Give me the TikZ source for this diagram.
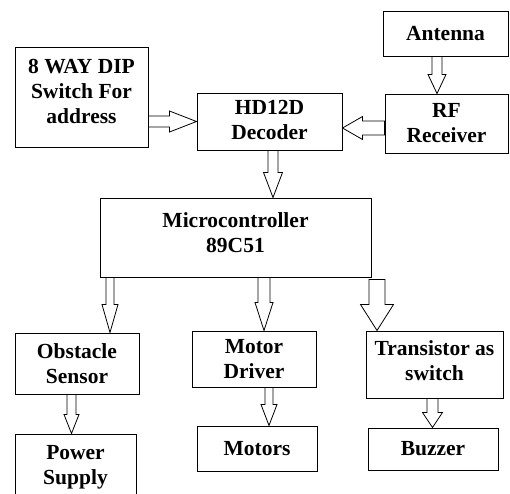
\documentclass[tikz,border=0pt]{standalone}
\usepackage{fontspec}
\setmainfont{Liberation Serif}
\usetikzlibrary{calc}

% hollow block arrow: start, end, shaft half width, head half width, head length
\newcommand{\hollowarrow}[5]{%
  \coordinate (ha) at (#1);
  \coordinate (hb) at (#2);
  \coordinate (hn) at ($(hb)!#5!(ha)$);
  \draw[arrline] ($(ha)!#3!90:(hb)$) -- ($(hn)!#3!90:(hb)$) -- ($(hn)!#4!90:(hb)$)
    -- (hb) -- ($(hn)!#4!-90:(hb)$) -- ($(hn)!#3!-90:(hb)$) -- ($(ha)!#3!-90:(hb)$) -- cycle;
}

\begin{document}
\begin{tikzpicture}[x=1pt, y=-1pt,
    blk/.style={draw, line width=1pt, inner sep=0pt, align=center,
      font=\fontsize{21.5}{25}\selectfont\bfseries},
    arrline/.style={draw, line width=0.8pt, fill=white}]
  \clip (0,0) rectangle (510,493);

  % blocks
  \node[blk, minimum width=133pt, minimum height=100pt, text depth=12pt] (dip) at (81.5,97)
    {8 WAY DIP\\Switch For\\address};
  \node[blk, minimum width=145pt, minimum height=57pt, text depth=3pt] (dec) at (269.5,121.5)
    {HD12D\\Decoder};
  \node[blk, minimum width=125pt, minimum height=45pt] (ant) at (445.5,33.5) {Antenna};
  \node[blk, minimum width=123pt, minimum height=59pt] (rf) at (446.5,123.5)
    {RF\\Receiver};
  \node[blk, minimum width=271pt, minimum height=79pt, text depth=10pt] (mc) at (235.5,237.5)
    {Microcontroller\\89C51};
  \node[blk, minimum width=124pt, minimum height=61pt] (obs) at (77,363.5)
    {Obstacle\\Sensor};
  \node[blk, minimum width=121pt, minimum height=66pt] (pwr) at (75.5,467)
    {Power\\Supply};
  \node[blk, minimum width=124pt, minimum height=56pt] (drv) at (254,359)
    {Motor\\Driver};
  \node[blk, minimum width=120pt, minimum height=45pt] (mot) at (257,448.5) {Motors};
  \node[blk, minimum width=137pt, minimum height=67pt, text depth=8pt] (trn) at (434.5,364.5)
    {Transistor as\\switch};
  \node[blk, minimum width=130pt, minimum height=42pt] (buz) at (433,449) {Buzzer};

  % arrows
  \hollowarrow{dip.east |- dec.west}{dec.west}{5.5pt}{10.5pt}{27pt}
  \hollowarrow{$(ant.south)+(-8.5,0)$}{$(rf.north)+(-9.5,0)$}{5pt}{9pt}{19pt}
  \hollowarrow{$(rf.west)+(0,4.5)$}{$(dec.east)+(0,6.5)$}{7pt}{11.5pt}{20pt}
  \hollowarrow{$(dec.south)+(3.5,0)$}{$(mc.north)+(37.5,0)$}{5pt}{9.5pt}{25pt}
  \hollowarrow{$(mc.south)+(-125.5,0)$}{$(obs.north)+(33,0)$}{4pt}{8pt}{28pt}
  \hollowarrow{$(mc.south)+(28.5,0)$}{$(drv.north)+(10,0)$}{6pt}{9pt}{28pt}
  \hollowarrow{$(mc.south)+(141.5,2)$}{$(trn.north)+(-57.5,0)$}{8pt}{16.5pt}{26pt}
  \hollowarrow{$(obs.south)+(-5.5,0)$}{$(pwr.north)+(-4,0)$}{4.5pt}{7.5pt}{19pt}
  \hollowarrow{$(drv.south)+(15,0)$}{$(mot.north)+(12,0)$}{4pt}{8pt}{21pt}
  \hollowarrow{$(trn.south)+(-2,0)$}{$(buz.north)+(-0.5,0)$}{5.5pt}{10pt}{15pt}
\end{tikzpicture}
\end{document}
